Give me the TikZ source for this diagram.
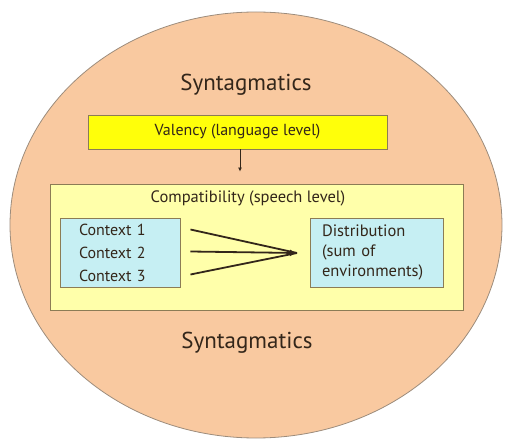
\documentclass[tikz,border=0pt]{standalone}
\usepackage{fontspec}
\setmainfont{PT Sans}
\usepackage{xcolor}
\usetikzlibrary{arrows.meta,positioning}
\definecolor{peach}{HTML}{F9C9A0}
\definecolor{peachline}{HTML}{9C8C7C}
\definecolor{valfill}{HTML}{FFFF0A}
\definecolor{compfill}{HTML}{FFFFAA}
\definecolor{ctxfill}{HTML}{C6EFF3}
\definecolor{boxline}{HTML}{8C7C55}
\definecolor{textdark}{HTML}{33261A}

\begin{document}
\begin{tikzpicture}[x=1pt,y=-1pt,
	box/.style={draw=boxline, line width=0.9pt, inner sep=0pt},
	ctxbox/.style={box, fill=ctxfill, minimum height=69pt, align=left, text=textdark},
	conn/.style={draw=textdark, line width=1.8pt}]
	\useasboundingbox (0,0) rectangle (507,441);
	% outer ellipse
	\filldraw[fill=peach, draw=peachline, line width=0.8pt] (256,225) ellipse [x radius=246pt, y radius=213pt];
	\node[text=textdark, font=\fontsize{23}{26}\selectfont] (syntop) at (246,85) {Syntagmatics};
	\node[text=textdark, font=\fontsize{23}{26}\selectfont] (synbot) at (247,343) {Syntagmatics};
	% valency and compatibility
	\node[box, fill=valfill, minimum width=299pt, minimum height=34pt, text=textdark,
		font=\fontsize{16}{18}\selectfont] (val) at (237.5,132) {Valency (language level)};
	\node[box, fill=compfill, minimum width=413pt, minimum height=126pt] (comp) at (256.5,247) {};
	\node[text=textdark, font=\fontsize{16.5}{18}\selectfont] (comptitle) at (248,198) {Compatibility (speech level)};
	\draw[textdark, line width=0.8pt, shorten >=12pt, -{Latex[length=4pt,width=4pt]}]
		([xshift=2.5pt]val.south) -- ([xshift=2.5pt]val.south |- comp.north);
	% contexts and distribution
	\node[ctxbox, text width=82pt, inner xsep=19pt, font=\fontsize{16}{23}\selectfont] (ctx) at (120,252.5)
		{Context 1\\Context 2\\Context 3};
	\node[ctxbox, text width=109pt, inner xsep=12pt, font=\fontsize{16.5}{20}\selectfont] (dist) at (376.5,252.5)
		{Distribution\\(sum of\\environments)};
	\coordinate (hub) at (297,253);
	\coordinate (c1) at ([xshift=10pt,yshift=23pt]ctx.east);
	\coordinate (c2) at ([xshift=10pt,yshift=1pt]ctx.east);
	\coordinate (c3) at ([xshift=10pt,yshift=-22pt]ctx.east);
	\draw[conn] (c1) -- (hub);
	\draw[conn] (c3) -- (hub);
	\draw[conn, -{Latex[length=7pt,width=7pt]}] (c2) -- (hub);
\end{tikzpicture}
\end{document}
